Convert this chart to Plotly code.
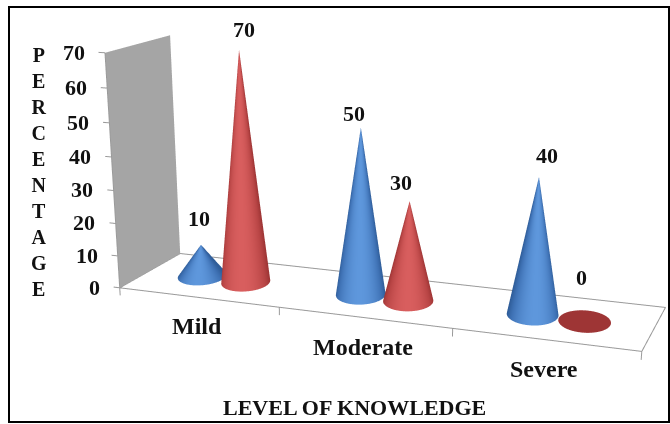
import numpy as np
import plotly.graph_objects as go

categories = ["Mild", "Moderate", "Severe"]
series_blue = [10, 50, 40]
series_red = [70, 30, 0]
z_ticks = [0, 10, 20, 30, 40, 50, 60, 70]
x_title = "LEVEL OF KNOWLEDGE"
y_title = "PERCENTAGE"

# view of the scene (camera plus an oblique projection of the chart's axes)
EYE = dict(x=-0.1042, y=-2.5243, z=0.2643)
CENTER = dict(x=-0.6424, y=1.5714, z=-0.6043)
SX, SY, SZ = 2.6261, 0.2802, 1.2065
SKEW = (0.2339, -0.0096, -0.1007, 0.3250, -0.1466, 0.0953)
RX, RY, RZ = (-1.0, 5.0), (-2.0, 3.0), (-20.0, 100.0)

GRAY = "#9a9a9a"
FONT = "Liberation Serif"
INK = "#111111"
BLUE = [[0, "#2f5d99"], [0.35, "#3f72b5"], [1, "#5e97dc"]]
RED = [[0, "#9e3535"], [0.35, "#b84545"], [1, "#d85e5e"]]
FLAT = dict(ambient=1, diffuse=0, specular=0, roughness=1, fresnel=0)
RU, RV, DEPTH = 0.148, 0.24, 0.5
BLUE_OFFSET, RED_OFFSET = 0.34, 0.63


def M(u, v, w):
    u, v, w = (np.asarray(a, dtype=float) for a in (u, v, w))
    a, b, c, d, g, h = SKEW
    return u + a * v + b * w / 70, v + c * u / 3 + d * w / 70, w + g * u / 3 * 70 + h * v * 70


def cone(xc, yc, value, scale):
    t = np.linspace(0, 2 * np.pi, 161)
    s = np.linspace(0, 1, 14)
    T, S = np.meshgrid(t, s)
    u = xc + (1 - S) * RU * (0.882 * np.cos(T) - 0.392 * np.sin(T))
    v = yc + (1 - S) * RV * (0.294 * np.cos(T) + 0.980 * np.sin(T))
    X, Y, Z = M(u, v, S * value)
    c = np.clip(np.cos(T + np.pi / 2), 0, 1) ** 1.5
    if value == 0:
        c = np.zeros_like(c)
    return go.Surface(x=X, y=Y, z=Z, surfacecolor=c, cmin=0, cmax=1, colorscale=scale,
                      showscale=False, hoverinfo="skip", lighting=FLAT)


def lines(us, vs, ws):
    seg = [[], [], []]
    for tri in zip(us, vs, ws):
        for k, arr in enumerate(M(*tri)):
            seg[k] += list(arr) + [None]
    return go.Scatter3d(x=seg[0], y=seg[1], z=seg[2], mode="lines",
                        line=dict(color=GRAY, width=2), hoverinfo="skip", showlegend=False)


fig = go.Figure()
n = len(categories)
zmax = max(z_ticks)
wv, ww = np.meshgrid([0.0, 1.0], [0.0, float(zmax)])
WX, WY, WZ = M(np.zeros_like(wv), wv, ww)
fig.add_trace(go.Surface(x=WX, y=WY, z=WZ, surfacecolor=np.zeros_like(WX),
                         colorscale=[[0, "#a5a5a5"], [1, "#a5a5a5"]], showscale=False,
                         hoverinfo="skip", lighting=FLAT))
fig.add_trace(lines([[0, n, n, 0, 0]], [[0, 0, 1, 1, 0]], [[0] * 5]))
fig.add_trace(lines([[-0.04, 0] for _ in z_ticks] + [[0, 0]],
                    [[0, 0] for _ in z_ticks] + [[0, 0]],
                    [[v, v] for v in z_ticks] + [[0, zmax]]))
fig.add_trace(lines([[i, i] for i in range(n + 1)], [[0, 0] for _ in range(n + 1)],
                    [[0, -2.4] for _ in range(n + 1)]))

blue_x = [i + BLUE_OFFSET for i in range(n)]
red_x = [i + RED_OFFSET for i in range(n)]
for xc, v in zip(blue_x, series_blue):
    fig.add_trace(cone(xc, DEPTH, v, BLUE))
for xc, v in zip(red_x, series_red):
    fig.add_trace(cone(xc, DEPTH - 0.02, v, RED))

ann = []


def label(u, v, w, text, size, xs=0, ys=0, anchor="center"):
    X, Y, Z = M(u, v, w)
    ann.append(dict(x=float(X), y=float(Y), z=float(Z), text="<b>%s</b>" % text, showarrow=False,
                    xshift=xs, yshift=ys, xanchor=anchor,
                    font=dict(family=FONT, size=size, color=INK)))


for v in z_ticks:
    label(-0.04, 0, v, str(v), 22, xs=-12, anchor="right")
blue_shift = [(-2, 26), (-7, 14), (8, 21)]
red_shift = [(4, 20), (-9, 18), (-4, 43)]
for xc, v, (a, b) in zip(blue_x, series_blue, blue_shift):
    label(xc, DEPTH, v, str(v), 22, a, b)
for xc, v, (a, b) in zip(red_x, series_red, red_shift):
    label(xc, DEPTH, v, str(v), 22, a, b)
for i, c in enumerate(categories):
    label(i + 0.5, 0, 0, c, 24, -1, -29)

paper_ann = [
    dict(x=354 / 670, y=1 - 407 / 424, xref="paper", yref="paper", text="<b>%s</b>" % x_title,
         xanchor="center", yanchor="middle", showarrow=False,
         font=dict(family=FONT, size=22, color=INK)),
    dict(x=39 / 670, y=1 - 172 / 424, xref="paper", yref="paper",
         text="<br>".join("<b>%s</b>" % ch for ch in y_title), xanchor="center", yanchor="middle",
         showarrow=False, font=dict(family=FONT, size=20, color=INK)),
]
hidden = dict(visible=False, showspikes=False)
fig.update_layout(
    width=670, height=424, margin=dict(l=0, r=0, t=0, b=0), paper_bgcolor="white", showlegend=False,
    annotations=paper_ann,
    shapes=[dict(type="rect", xref="paper", yref="paper", x0=9 / 670, x1=669 / 670,
                 y0=1 - 422 / 424, y1=1 - 7 / 424, line=dict(color="black", width=2))],
    scene=dict(
        domain=dict(x=[0.1, 1], y=[0, 1]), bgcolor="white",
        xaxis=dict(range=RX, **hidden), yaxis=dict(range=RY, **hidden), zaxis=dict(range=RZ, **hidden),
        aspectmode="manual",
        aspectratio=dict(x=6 * SX / 3, y=5 * SY, z=120 * SZ / 70),
        camera=dict(eye=EYE, center=CENTER, projection=dict(type="perspective")),
        annotations=ann,
    ),
)
fig.write_html("out.html", post_script="document.body.style.margin='0';",
               config=dict(displayModeBar=False))
